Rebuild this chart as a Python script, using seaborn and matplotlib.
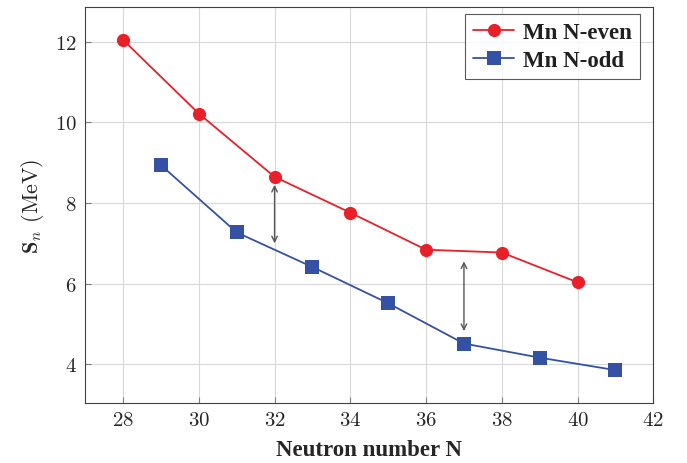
import pandas as pd
import numpy as np
import matplotlib
matplotlib.use('Agg')
import matplotlib.pyplot as plt
import seaborn as sns

# S_n values
n_even = [28, 30, 32, 34, 36, 38, 40]
sn_even = [12.05, 10.22, 8.65, 7.76, 6.84, 6.77, 6.03]
n_odd = [29, 31, 33, 35, 37, 39, 41]
sn_odd = [8.94, 7.27, 6.41, 5.51, 4.51, 4.16, 3.85]

# double arrows (x, y_top, y_bottom)
arrow_x = [32, 37]
arrow_top = [8.45, 6.55]
arrow_bottom = [7.0, 4.82]

df = pd.concat([
    pd.DataFrame({'N': n_even, 'Sn': sn_even, 'series': 'Mn N-even'}),
    pd.DataFrame({'N': n_odd, 'Sn': sn_odd, 'series': 'Mn N-odd'}),
])

sns.set_style('ticks')
plt.rcParams['font.family'] = ['cmr10', 'DejaVu Serif']
plt.rcParams['mathtext.fontset'] = 'cm'
plt.rcParams['axes.formatter.use_mathtext'] = True

fig, ax = plt.subplots(figsize=(6.87, 4.64), dpi=100)
fig.subplots_adjust(left=0.124, right=0.951, top=0.983, bottom=0.129)

colors = {'Mn N-even': '#e8202a', 'Mn N-odd': '#3551a4'}
sns.lineplot(data=df, x='N', y='Sn', hue='series', style='series',
             palette=colors, markers={'Mn N-even': 'o', 'Mn N-odd': 's'},
             dashes=False, markersize=9.5, linewidth=1.3, markeredgewidth=0,
             ax=ax)

for x, yt, yb in zip(arrow_x, arrow_top, arrow_bottom):
    ax.annotate('', xy=(x, yt), xytext=(x, yb),
                arrowprops=dict(arrowstyle='<->', color='#555555', lw=1.0,
                                shrinkA=0, shrinkB=0))

ax.set_xlim(27, 42)
ax.set_ylim(3.03, 12.87)
ax.set_xticks(np.arange(28, 43, 2))
ax.set_yticks(np.arange(4, 13, 2))
ax.grid(True, color='#d9d9d9', linewidth=0.8)
ax.set_axisbelow(True)
ax.tick_params(direction='in', length=4, color='#808080', labelsize=15,
               top=False, right=False, pad=6)
for s in ax.spines.values():
    s.set_color('#404040')
    s.set_linewidth(0.8)

ax.set_xlabel('Neutron number N', family='Liberation Serif', fontweight='bold',
              fontsize=16.5, labelpad=7)
ax.set_ylabel(r'$\mathbf{S}_n$ (MeV)', fontsize=16, labelpad=6)

leg = ax.legend(loc='upper right', fancybox=False, edgecolor='#303030',
                prop={'family': 'Liberation Serif', 'weight': 'bold', 'size': 16.5},
                handlelength=1.8, handletextpad=0.4, borderpad=0.35,
                labelspacing=0.3, borderaxespad=0,
                bbox_to_anchor=(0.977, 0.982))
leg.get_frame().set_linewidth(0.8)
for t in leg.get_texts():
    t.set_color('#202020')

fig.savefig('out.png', dpi=100)
